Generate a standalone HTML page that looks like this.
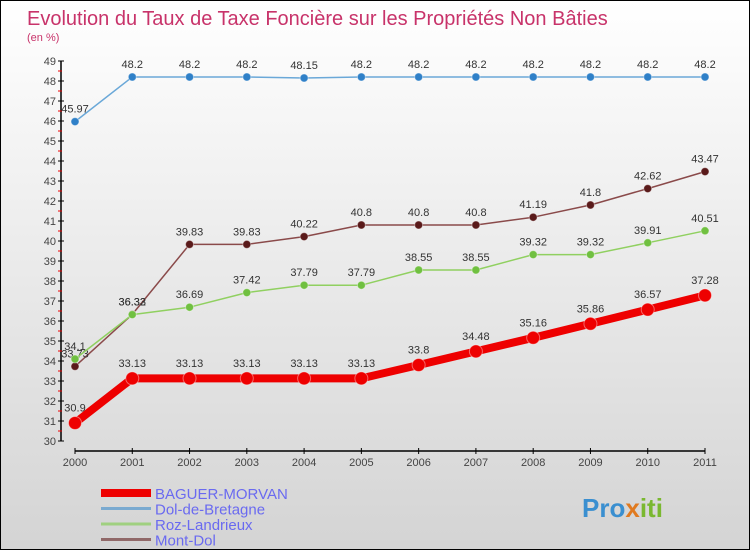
<!DOCTYPE html>
<html><head><meta charset="utf-8"><style>
html,body{margin:0;padding:0}
body{width:750px;height:550px;overflow:hidden;font-family:"Liberation Sans",sans-serif}
#frame{position:absolute;left:0;top:0;width:748px;height:548px;border:1px solid #000;background:linear-gradient(#ffffff,#d4d4d4)}
</style></head><body>
<div id="frame">
<svg id="chart" width="750" height="550" style="position:absolute;left:-1px;top:-1px">
<text x="27" y="25" font-size="20" fill="#c8336a">Evolution du Taux de Taxe Foncière sur les Propriétés Non Bâties</text>
<text x="27" y="41" font-size="11" fill="#c8336a">(en %)</text>
<g id="axes"></g><g id="series"></g><g id="legend"></g>
<text x="582" y="517" font-size="26" font-weight="bold" fill="#3a8fd0">Pro<tspan fill="#e07a20">x</tspan><tspan fill="#7ab830">iti</tspan></text>
</svg></div>
<script>
const years=[2000,2001,2002,2003,2004,2005,2006,2007,2008,2009,2010,2011];
const baguer=[30.9,33.13,33.13,33.13,33.13,33.13,33.8,34.48,35.16,35.86,36.57,37.28];
const dol=[45.97,48.2,48.2,48.2,48.15,48.2,48.2,48.2,48.2,48.2,48.2,48.2];
const roz=[34.1,36.32,36.69,37.42,37.79,37.79,38.55,38.55,39.32,39.32,39.91,40.51];
const mont=[33.73,36.33,39.83,39.83,40.22,40.8,40.8,40.8,41.19,41.8,42.62,43.47];
const yTicks=[30,31,32,33,34,35,36,37,38,39,40,41,42,43,44,45,46,47,48,49];
const NS='http://www.w3.org/2000/svg';
const X=i=>75+i*(630/11), Y=v=>441-(v-30)*20;
function mk(tag,attrs,parent,txt){const e=document.createElementNS(NS,tag);for(const k in attrs)e.setAttribute(k,attrs[k]);if(txt!=null)e.textContent=txt;parent.appendChild(e);return e;}
const ax=document.getElementById('axes');
let e=mk('line',{x1:61,y1:Y(49),x2:61,y2:Y(30),stroke:'#000','stroke-width':1.5},ax);

e=mk('line',{x1:75,y1:451,x2:705,y2:451,stroke:'#000','stroke-width':1.5},ax);

yTicks.forEach(v=>{mk('line',{x1:58,y1:Y(v),x2:64,y2:Y(v),stroke:'#000'},ax);
 if(v<49)mk('line',{x1:58,y1:Y(v+0.5),x2:62,y2:Y(v+0.5),stroke:'#e00'},ax);
 e=mk('text',{x:56,y:Y(v)+4,'font-size':11,fill:'#444','text-anchor':'end'},ax,v);
 });
years.forEach((yr,i)=>{mk('line',{x1:X(i),y1:448,x2:X(i),y2:454,stroke:'#000'},ax);
 e=mk('text',{x:X(i),y:466,'font-size':11,fill:'#444','text-anchor':'middle'},ax,yr);
 });
const sg=document.getElementById('series');
function series(data,color,dot,w,r,name){
 const g=mk('g',{},sg);
 mk('polyline',{points:data.map((v,i)=>X(i)+','+Y(v)).join(' '),fill:'none',stroke:color,'stroke-width':w,'stroke-linejoin':'round'},g);
 data.forEach((v,i)=>{const c=mk('circle',{cx:X(i),cy:Y(v),r:r,fill:dot,stroke:'#fff','stroke-opacity':0.4},g);
  
  const t=mk('text',{x:X(i),y:Y(v)-r-5,'font-size':11,fill:'#333','text-anchor':'middle'},g,v);
  });
}
series(dol,'#6aa8d8','#2f80c8',1.5,4,'series-dol-de-bretagne');
series(mont,'#8a4a4a','#5a1a1a',1.5,4,'series-mont-dol');
series(roz,'#90d060','#70c040',1.5,4,'series-roz-landrieux');
series(baguer,'#ee0000','#ee0000',8,6.5,'series-baguer-morvan');
const lg=document.getElementById('legend');
[['BAGUER-MORVAN','#ee0000',8],['Dol-de-Bretagne','#7aaad0',3],['Roz-Landrieux','#a0d080',3],['Mont-Dol','#906868',3]].forEach((d,i)=>{
 const g=mk('g',{},lg);
 const y=493+i*15.5;
 mk('line',{x1:101,y1:y,x2:151,y2:y,stroke:d[1],'stroke-width':d[2]},g);
 mk('text',{x:155,y:y+6,'font-size':15,fill:'#6a6af0'},g,d[0]);});
</script>
</body></html>
